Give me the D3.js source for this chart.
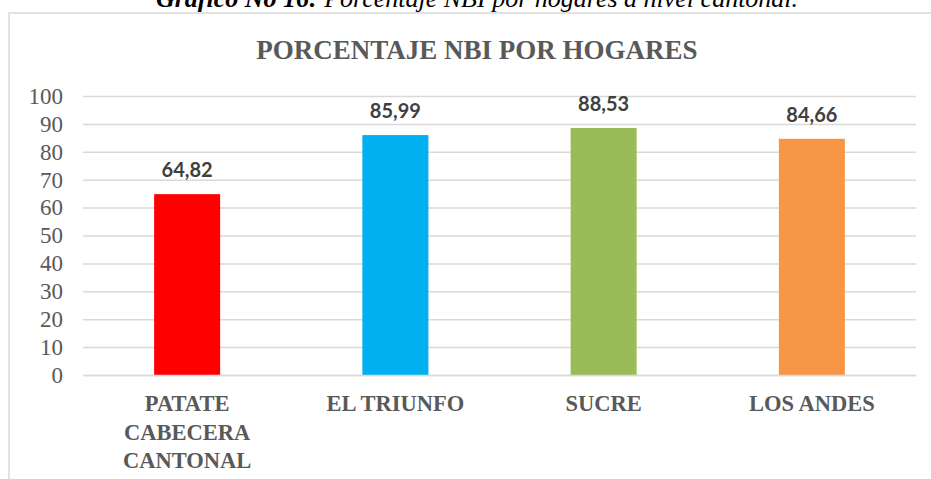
<!DOCTYPE html>
<html>
<head>
<meta charset="utf-8">
<script src="https://cdn.jsdelivr.net/npm/d3@7"></script>
<style>
  body { margin: 0; background: #fff; }
  .yaxis text { font-family: "Liberation Serif", "Times New Roman", serif; font-size: 23px; fill: #595959; }
</style>
</head>
<body>
<svg id="chart"></svg>
<script>
const categories = [["PATATE", "CABECERA", "CANTONAL"], ["EL TRIUNFO"], ["SUCRE"], ["LOS ANDES"]];
const values = [64.82, 85.99, 88.53, 84.66];
const valueLabels = ["64,82", "85,99", "88,53", "84,66"];
const colors = ["#FF0000", "#00B0F0", "#9BBB59", "#F79646"];
const yTicks = [0, 10, 20, 30, 40, 50, 60, 70, 80, 90, 100];

const width = 931;
const height = 479;
const plotLeft = 83, plotRight = 916, plotTop = 96, plotBottom = 375;
const serif = "'Liberation Serif', 'Times New Roman', serif";

const svg = d3.select("#chart")
    .attr("width", width)
    .attr("height", height);

// chart frame
svg.append("rect")
    .attr("x", 9)
    .attr("y", 13)
    .attr("width", 940)
    .attr("height", 500)
    .attr("fill", "#fff")
    .attr("stroke", "#D9D9D9")
    .attr("stroke-width", 1.5);

// caption above chart (clipped at top)
const cap = svg.append("text")
    .attr("x", 477)
    .attr("y", 7)
    .attr("text-anchor", "middle")
    .attr("font-family", serif)
    .style("font-style", "italic")
    .style("font-size", "26px")
    .attr("fill", "#000");
cap.append("tspan").style("font-weight", "bold").text("Gráfico No 16:");
cap.append("tspan").text(" Porcentaje NBI por hogares a nivel cantonal.");

svg.append("text")
    .attr("x", 477)
    .attr("y", 59)
    .attr("text-anchor", "middle")
    .attr("font-family", serif)
    .style("font-weight", "bold")
    .style("font-size", "27px")
    .attr("fill", "#595959")
    .text("PORCENTAJE NBI POR HOGARES");

const x = d3.scaleBand()
    .domain(d3.range(values.length))
    .range([plotLeft, plotRight])
    .paddingInner(0.683)
    .paddingOuter(0.3415);

const y = d3.scaleLinear()
    .domain([0, 100])
    .range([plotBottom, plotTop]);

const yAxis = d3.axisLeft(y)
    .tickValues(yTicks)
    .tickSize(-(plotRight - plotLeft))
    .tickPadding(20)
    .tickFormat(d3.format("d"));

const gy = svg.append("g")
    .attr("class", "yaxis")
    .attr("transform", `translate(${plotLeft},0)`)
    .call(yAxis);
gy.select(".domain").remove();
gy.selectAll(".tick line")
    .attr("stroke", "#D9D9D9")
    .attr("stroke-width", 1.5);

svg.selectAll("rect.bar")
    .data(values)
    .enter()
    .append("rect")
    .attr("class", "bar")
    .attr("x", (d, i) => x(i))
    .attr("y", d => y(d))
    .attr("width", x.bandwidth())
    .attr("height", d => y(0) - y(d))
    .attr("fill", (d, i) => colors[i]);

svg.selectAll("text.val")
    .data(values)
    .enter()
    .append("text")
    .attr("class", "val")
    .attr("x", (d, i) => x(i) + x.bandwidth() / 2)
    .attr("y", d => y(d) - 17)
    .attr("text-anchor", "middle")
    .attr("font-family", "Lato, 'Open Sans', sans-serif")
    .style("font-weight", "bold")
    .style("font-size", "20px")
    .attr("fill", "#404040")
    .text((d, i) => valueLabels[i]);

const xAxis = d3.axisBottom(x)
    .tickSize(0)
    .tickFormat("");

const gx = svg.append("g")
    .attr("transform", `translate(0,${plotBottom})`)
    .call(xAxis);
gx.select(".domain")
    .attr("stroke", "#D9D9D9")
    .attr("stroke-width", 1.5);

const catText = svg.selectAll("text.cat")
    .data(categories)
    .enter()
    .append("text")
    .attr("class", "cat")
    .attr("text-anchor", "middle")
    .attr("font-family", serif)
    .style("font-weight", "bold")
    .style("font-size", "22.5px")
    .attr("fill", "#595959");

catText.selectAll("tspan")
    .data((d, i) => d.map(line => ({line, i})))
    .enter()
    .append("tspan")
    .attr("x", d => x(d.i) + x.bandwidth() / 2)
    .attr("y", (d, j) => 411 + j * 28.5)
    .text(d => d.line);
</script>
</body>
</html>
